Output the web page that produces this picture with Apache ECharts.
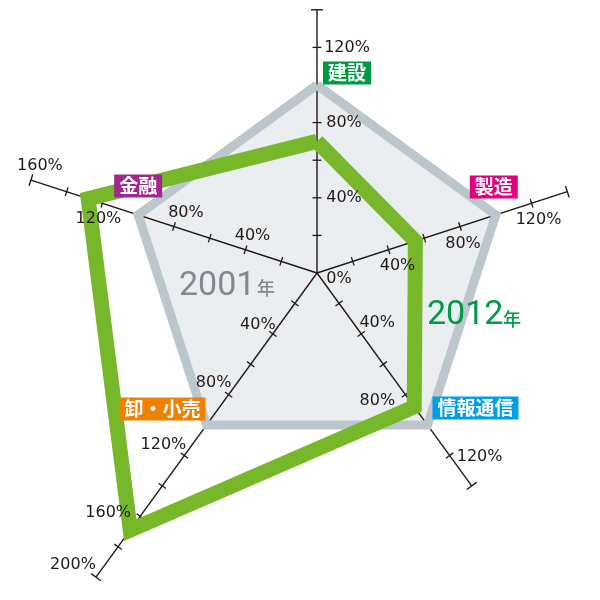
<!DOCTYPE html>
<html>
<head>
<meta charset="utf-8">
<script src="https://cdn.jsdelivr.net/npm/echarts@6/dist/echarts.min.js"></script>
<style>html,body{margin:0;background:#fff}#radar{width:600px;height:600px}</style>
</head>
<body>
<div id="radar"></div>
<script>
// 業種（上から反時計回りの順）
var categories = ['建設', '金融', '卸・小売', '情報通信', '製造'];
var values2001 = [100, 100, 100, 100, 100];
var values2012 = [70, 128, 169, 88, 55];
// 各軸の最大目盛り(%)
var axisMax = [140, 160, 200, 140, 140];
// 目盛りラベル(%)
var tickLabels = [
	[0, 40, 80, 120],
	[40, 80, 120, 160],
	[40, 80, 120, 160, 200],
	[40, 80, 120],
	[40, 80, 120]
];
var tickStep = 20;

// 見た目
var center = [317, 273];
var pxPerUnit = 1.88;
var ink = '#231815';
var nameColors = ['#009944', '#a0288c', '#ee8200', '#00a0e9', '#e4007f'];
var nameOffsets = [[30, -12], [0, -29], [-44, -16], [48, -17], [-2, -28]];
var labelOffsets = [
	[[22, 6], [27, 0], [27, 0], [30, 0]],
	[[7, -14], [12, -14], [-4, 16], [9, -14]],
	[[-15, -9], [-15, -12], [-21, -11], [-32, -4], [-23, -12]],
	[[16, -11], [-28, 6], [30, 1]],
	[[9, 16], [3, 17], [7, 17]]
];

var myChart = echarts.init(document.getElementById('radar'));

function axisAngle(i) {
	return 90 + 72 * i;
}

var series = [];
// 2001年 塗り
series.push({
	type: 'radar', z: 1, silent: true, symbol: 'none',
	lineStyle: { width: 0 },
	areaStyle: { color: '#eaeef0', opacity: 1 },
	data: [{ value: values2001, name: '2001年' }]
});
// 軸線
categories.forEach(function (c, i) {
	series.push({
		type: 'line', coordinateSystem: 'polar', z: 2, silent: true,
		symbol: 'none',
		lineStyle: { color: ink, width: 1.4 },
		data: [[0, i], [axisMax[i], i]]
	});
});
// 目盛り
var ticks = [];
categories.forEach(function (c, i) {
	for (var v = tickStep; v <= axisMax[i]; v += tickStep) {
		ticks.push({
			value: [v, i],
			symbolSize: v === axisMax[i] ? [1.4, 12] : [1.3, 9],
			symbolRotate: axisAngle(i)
		});
	}
});
series.push({
	type: 'scatter', coordinateSystem: 'polar', z: 2, silent: true,
	symbol: 'rect', itemStyle: { color: ink, opacity: 1 },
	data: ticks
});
// 2001年 線
series.push({
	type: 'radar', z: 3, silent: true, symbol: 'none',
	lineStyle: { color: '#bcc6cd', width: 9, join: 'miter' },
	data: [{ value: values2001, name: '2001年' }]
});
// 2012年 線
series.push({
	type: 'radar', z: 4, silent: true, symbol: 'none',
	lineStyle: { color: '#76b82a', width: 15, join: 'miter' },
	data: [{ value: values2012, name: '2012年' }]
});
// 目盛りラベル
var tickTexts = [];
tickLabels.forEach(function (list, i) {
	list.forEach(function (v, k) {
		tickTexts.push({
			value: [v, i],
			label: { offset: labelOffsets[i][k] }
		});
	});
});
series.push({
	type: 'scatter', coordinateSystem: 'polar', z: 5, silent: true,
	symbolSize: 1, itemStyle: { color: 'rgba(0,0,0,0)', opacity: 1 },
	label: {
		show: true, position: 'inside', formatter: function (p) { return p.value[0] + '%'; },
		color: ink, fontFamily: 'DejaVu Sans', fontSize: 16
	},
	data: tickTexts
});
// 業種名
series.push({
	type: 'scatter', coordinateSystem: 'polar', z: 6, silent: true,
	symbolSize: 1, itemStyle: { color: 'rgba(0,0,0,0)', opacity: 1 },
	label: {
		show: true, position: 'inside', formatter: function (p) { return categories[p.value[1]]; },
		color: '#fff', fontFamily: 'Noto Sans CJK JP', fontWeight: 'bold', fontSize: 19,
		lineHeight: 21, padding: [1, 5, 1, 5]
	},
	data: categories.map(function (c, i) {
		return {
			value: [values2001[i], i],
			label: { backgroundColor: nameColors[i], offset: nameOffsets[i] }
		};
	})
});

var options = {
	backgroundColor: '#fff',
	animation: false,
	radar: {
		center: center,
		radius: 100 * pxPerUnit,
		shape: 'polygon',
		indicator: categories.map(function (c) { return { name: c, max: 100, min: 0 }; }),
		axisName: { show: false },
		axisLine: { show: false },
		splitLine: { show: false },
		splitArea: { show: false },
		axisTick: { show: false },
		axisLabel: { show: false }
	},
	polar: {
		center: center,
		radius: 200 * pxPerUnit
	},
	angleAxis: {
		type: 'category', data: categories, startAngle: 54, clockwise: false,
		boundaryGap: true, show: false
	},
	radiusAxis: { type: 'value', min: 0, max: 200, show: false },
	graphic: [
		{ type: 'text', x: 179, y: 286, z: 100, silent: true,
		  style: { text: '2001', font: '34px Roboto', fill: '#7e8990', align: 'left', verticalAlign: 'middle' } },
		{ type: 'text', x: 257, y: 288, z: 100, silent: true,
		  style: { text: '年', font: '500 18px "Noto Sans CJK JP"', fill: '#7e8990', align: 'left', verticalAlign: 'middle' } },
		{ type: 'text', x: 427, y: 315, z: 100, silent: true,
		  style: { text: '2012', font: '34px Roboto', fill: '#009944', align: 'left', verticalAlign: 'middle' } },
		{ type: 'text', x: 503, y: 319, z: 100, silent: true,
		  style: { text: '年', font: '500 18px "Noto Sans CJK JP"', fill: '#009944', align: 'left', verticalAlign: 'middle' } }
	],
	series: series
};
myChart.setOption(options);
</script>
</body>
</html>
